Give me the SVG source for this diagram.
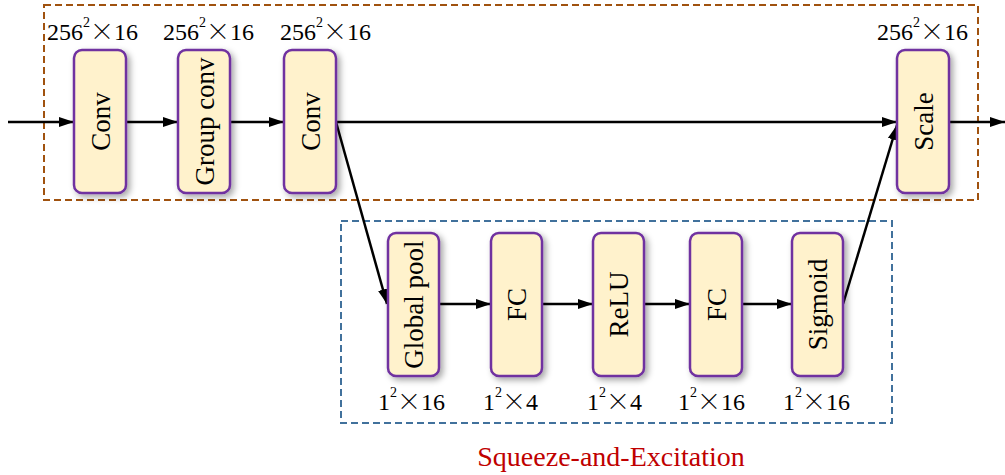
<svg xmlns="http://www.w3.org/2000/svg" width="1005" height="475" viewBox="0 0 1005 475">
<style>
.node rect{fill:#FFF2CC;stroke:#7030A0;stroke-width:2.5;filter:url(#sh)}
.node text{font-family:"Liberation Serif",serif;font-size:27px;fill:#000;text-anchor:middle}
.dim{font-family:"Liberation Serif",serif;font-size:24px;fill:#000}
.sup{font-size:14px}
.x{font-family:"Noto Sans CJK SC","Liberation Serif",sans-serif;font-weight:300}
.conn line{stroke:#000;stroke-width:2.5;marker-end:url(#ah)}
</style>
<defs>
<filter id="sh" x="-30%" y="-20%" width="170%" height="150%">
<feDropShadow dx="3" dy="3" stdDeviation="3" flood-color="#000" flood-opacity="0.35"/>
</filter>
<marker id="ah" markerUnits="userSpaceOnUse" markerWidth="16" markerHeight="12" refX="15" refY="6" orient="auto">
<path d="M0,1 L15,6 L0,11 z" fill="#000"/>
</marker>
</defs>
<rect x="44" y="5" width="934" height="195" fill="none" stroke="#A0520F" stroke-width="2" stroke-dasharray="7,4"/>
<rect x="341" y="221" width="551" height="202" fill="none" stroke="#41719C" stroke-width="2" stroke-dasharray="7,4"/>
<g class="conn">
<line x1="8" y1="122" x2="74" y2="122"/>
<line x1="126" y1="122" x2="178" y2="122"/>
<line x1="230" y1="122" x2="284" y2="122"/>
<line x1="336" y1="122" x2="897" y2="122"/>
<line x1="336" y1="122" x2="387" y2="304"/>
<line x1="439" y1="304" x2="491" y2="304"/>
<line x1="542" y1="304" x2="593" y2="304"/>
<line x1="644" y1="304" x2="690" y2="304"/>
<line x1="742" y1="304" x2="792" y2="304"/>
<line x1="843" y1="304" x2="897" y2="125"/>
<line x1="949" y1="122" x2="1005" y2="122"/>
</g>
<g id="conv1" class="node"><rect x="74" y="50" width="52" height="143" rx="8"/><text transform="translate(110,121.5) rotate(-90)">Conv</text></g>
<g id="groupconv" class="node"><rect x="178" y="50" width="52" height="143" rx="8"/><text transform="translate(214,121.5) rotate(-90)">Group conv</text></g>
<g id="conv2" class="node"><rect x="284" y="50" width="52" height="143" rx="8"/><text transform="translate(320,121.5) rotate(-90)">Conv</text></g>
<g id="scale" class="node"><rect x="897" y="50" width="52" height="143" rx="8"/><text transform="translate(933,121.5) rotate(-90)">Scale</text></g>
<g id="globalpool" class="node"><rect x="388" y="233" width="51" height="143" rx="8"/><text transform="translate(423,304.5) rotate(-90)">Global pool</text></g>
<g id="fc1" class="node"><rect x="491" y="233" width="51" height="143" rx="8"/><text transform="translate(526,304.5) rotate(-90)">FC</text></g>
<g id="relu" class="node"><rect x="593" y="233" width="51" height="143" rx="8"/><text transform="translate(628,304.5) rotate(-90)">ReLU</text></g>
<g id="fc2" class="node"><rect x="690" y="233" width="52" height="143" rx="8"/><text transform="translate(726,304.5) rotate(-90)">FC</text></g>
<g id="sigmoid" class="node"><rect x="792" y="233" width="51" height="143" rx="8"/><text transform="translate(827,304.5) rotate(-90)">Sigmoid</text></g>
<g id="labels">
<text class="dim" x="47" y="40">256<tspan class="sup" dy="-13">2</tspan><tspan class="x" dy="13">×</tspan>16</text>
<text class="dim" x="163" y="40">256<tspan class="sup" dy="-13">2</tspan><tspan class="x" dy="13">×</tspan>16</text>
<text class="dim" x="280" y="40">256<tspan class="sup" dy="-13">2</tspan><tspan class="x" dy="13">×</tspan>16</text>
<text class="dim" x="877" y="40">256<tspan class="sup" dy="-13">2</tspan><tspan class="x" dy="13">×</tspan>16</text>
<text class="dim" x="378" y="410">1<tspan class="sup" dy="-13">2</tspan><tspan class="x" dy="13">×</tspan>16</text>
<text class="dim" x="483" y="410">1<tspan class="sup" dy="-13">2</tspan><tspan class="x" dy="13">×</tspan>4</text>
<text class="dim" x="587" y="410">1<tspan class="sup" dy="-13">2</tspan><tspan class="x" dy="13">×</tspan>4</text>
<text class="dim" x="678" y="410">1<tspan class="sup" dy="-13">2</tspan><tspan class="x" dy="13">×</tspan>16</text>
<text class="dim" x="783" y="410">1<tspan class="sup" dy="-13">2</tspan><tspan class="x" dy="13">×</tspan>16</text>
<text x="611" y="466" font-family="Liberation Serif,serif" font-size="28" fill="#C00000" text-anchor="middle">Squeeze-and-Excitation</text>
</g>
</svg>
